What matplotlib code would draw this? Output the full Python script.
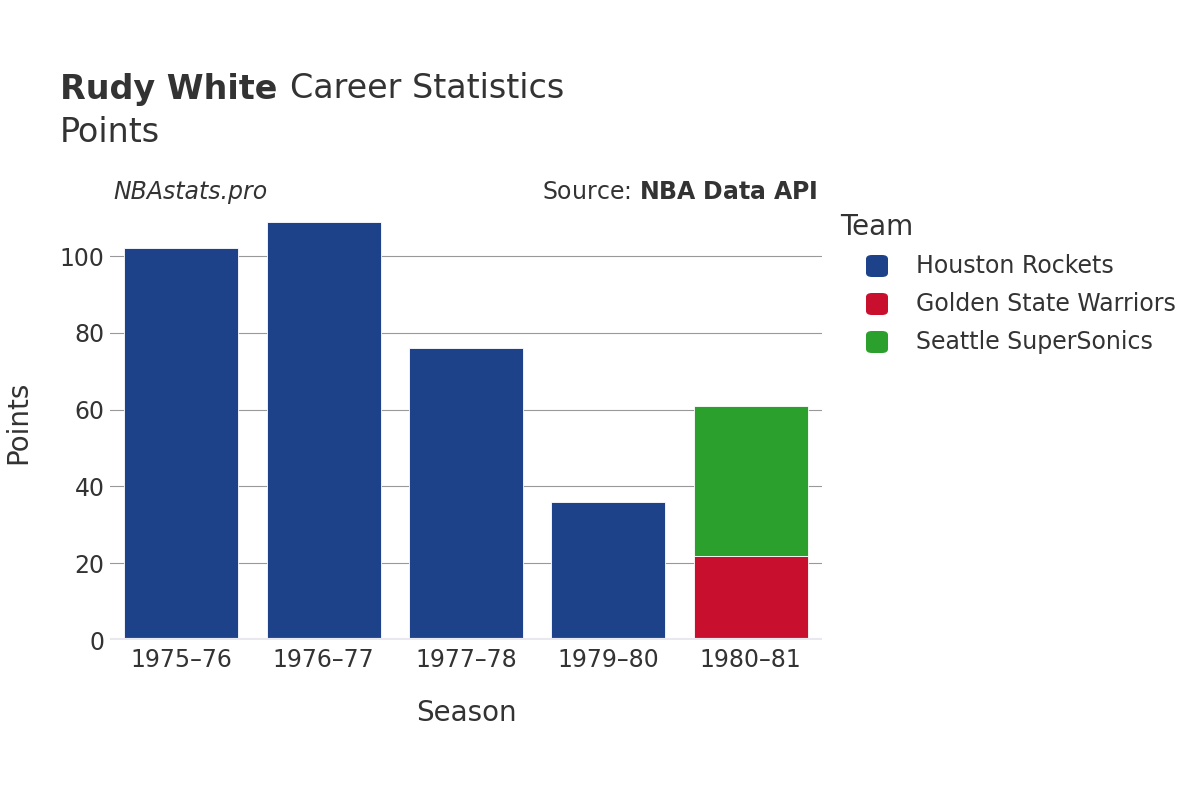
import numpy as np
import matplotlib.pyplot as plt
from matplotlib.patches import FancyBboxPatch

seasons = ['1975–76', '1976–77', '1977–78', '1979–80', '1980–81']
teams = ['Houston Rockets', 'Golden State Warriors', 'Seattle SuperSonics']
colors = ['#1d428a', '#c8102e', '#2ca02c']
# points per team per season
houston = [102, 109, 76, 36, 0]
warriors = [0, 0, 0, 0, 22]
sonics = [0, 0, 0, 0, 39]
yticks = [0, 20, 40, 60, 80, 100]

txt = '#333333'
plt.rcParams['font.family'] = ['DejaVu Sans']

fig = plt.figure(figsize=(12, 8), dpi=100)
ax = fig.add_axes([110 / 1200, 1 - 640 / 800, 712 / 1200, 435 / 800])

x = np.arange(len(seasons))
bottom = np.zeros(len(seasons))
for vals, c in zip([houston, warriors, sonics], colors):
    vals = np.array(vals, dtype=float)
    mask = vals > 0
    ax.bar(x[mask], vals[mask], width=0.8, bottom=bottom[mask], color=c,
           edgecolor='white', linewidth=0.6, zorder=3)
    bottom += vals

ax.set_xlim(-0.5, len(seasons) - 0.5)
ax.set_ylim(0, 113.3)
ax.set_yticks(yticks)
ax.set_xticks(x)
ax.set_xticklabels(seasons)
ax.tick_params(axis='both', length=0, labelsize=17, colors=txt)
ax.tick_params(axis='y', pad=4)
ax.tick_params(axis='x', pad=6)
for y in yticks[1:]:
    ax.axhline(y, color='#999999', linewidth=0.8, zorder=1)
ax.axhline(0, color='#e8e8ee', linewidth=3, zorder=4)
for s in ax.spines.values():
    s.set_visible(False)

ax.set_xlabel('Season', fontsize=20, color=txt, labelpad=19)
ax.set_ylabel('Points', fontsize=20, color=txt, labelpad=20)

# headers
t1 = fig.text(60 / 1200, 1 - 89 / 800, 'Rudy White', fontsize=24,
              fontweight='bold', color=txt, va='center', ha='left')
fig.canvas.draw()
bb = t1.get_window_extent()
fig.text((bb.x1 + 13) / 1200, 1 - 89 / 800, 'Career Statistics', fontsize=24,
         color=txt, va='center', ha='left')
fig.text(60 / 1200, 1 - 132 / 800, 'Points', fontsize=24, color=txt,
         va='center', ha='left')
fig.text(113 / 1200, 1 - 192 / 800, 'NBAstats.pro', fontsize=17,
         style='italic', color=txt, va='center', ha='left')
fig.text(818 / 1200, 1 - 192 / 800, r'Source: $\bf{NBA\ Data\ API}$',
         fontsize=17, color=txt, va='center', ha='right')

# legend
fig.text(840 / 1200, 1 - 227 / 800, 'Team', fontsize=20, color=txt,
         va='center', ha='left')
for i, (t, c) in enumerate(zip(teams, colors)):
    yc = 266 + 38 * i
    box = FancyBboxPatch((866 / 1200, 1 - (yc + 11) / 800), 22 / 1200, 22 / 800,
                         boxstyle='round,pad=0,rounding_size=0.005',
                         transform=fig.transFigure, facecolor=c,
                         edgecolor='none')
    fig.patches.append(box)
    fig.text(916 / 1200, 1 - yc / 800, t, fontsize=17, color=txt,
             va='center', ha='left')

fig.savefig('out.png', dpi=100)
